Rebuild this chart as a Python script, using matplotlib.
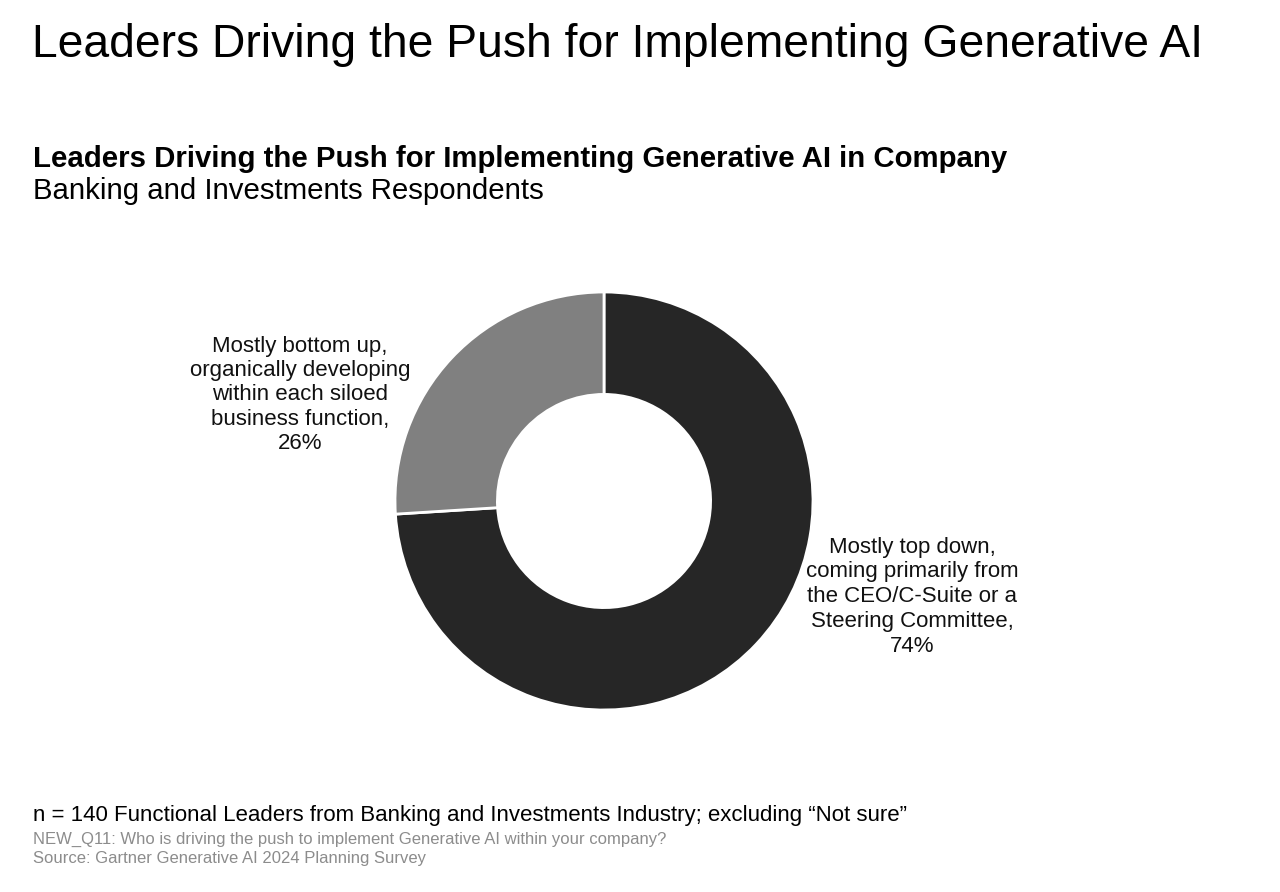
import matplotlib
matplotlib.use("Agg")
import matplotlib.pyplot as plt

plt.rcParams['font.family'] = ['Liberation Sans', 'DejaVu Sans']

# data
labels = ["Mostly top down,\ncoming primarily from\nthe CEO/C-Suite or a\nSteering Committee,\n74%",
          "Mostly bottom up,\norganically developing\nwithin each siloed\nbusiness function,\n26%"]
values = [74, 26]
colors = ["#262626", "#808080"]

W, H = 1280, 892
fig = plt.figure(figsize=(W / 100, H / 100), dpi=100)

def px(x, y):
    return x / W, 1 - y / H

# donut: centre (604, 501), radius 209
cx, cy, r = 604, 501, 209
ax = fig.add_axes([(cx - r) / W, 1 - (cy + r) / H, 2 * r / W, 2 * r / H])
ax.pie(values, colors=colors, startangle=90, counterclock=False, radius=1.0,
       wedgeprops=dict(width=0.49, edgecolor="white", linewidth=2))
ax.set_xlim(-1, 1)
ax.set_ylim(-1, 1)
ax.set_aspect("equal")
ax.axis("off")

# slice labels
fig.text(*px(912, 597), labels[0], ha="center", va="center", fontsize=16,
         linespacing=1.25, color="#111111")
fig.text(*px(300, 395), labels[1], ha="center", va="center", fontsize=16,
         linespacing=1.2, color="#111111")

# titles
fig.text(*px(32, 45), "Leaders Driving the Push for Implementing Generative AI",
         fontsize=33.3, va="center", ha="left", color="black")
fig.text(*px(33, 159), "Leaders Driving the Push for Implementing Generative AI in Company",
         fontsize=21.2, fontweight="bold", va="center", ha="left", color="black")
fig.text(*px(33, 191), "Banking and Investments Respondents",
         fontsize=21.2, va="center", ha="left", color="black")

# footnotes
fig.text(*px(33, 815), "n = 140 Functional Leaders from Banking and Investments Industry; excluding \u201cNot sure\u201d",
         fontsize=16, va="center", ha="left", color="black")
fig.text(*px(33, 839), "NEW_Q11: Who is driving the push to implement Generative AI within your company?",
         fontsize=12, va="center", ha="left", color="#8c8c8c")
fig.text(*px(33, 858), "Source: Gartner Generative AI 2024 Planning Survey",
         fontsize=12, va="center", ha="left", color="#8c8c8c")

fig.savefig("out.png", dpi=100, facecolor="white")
